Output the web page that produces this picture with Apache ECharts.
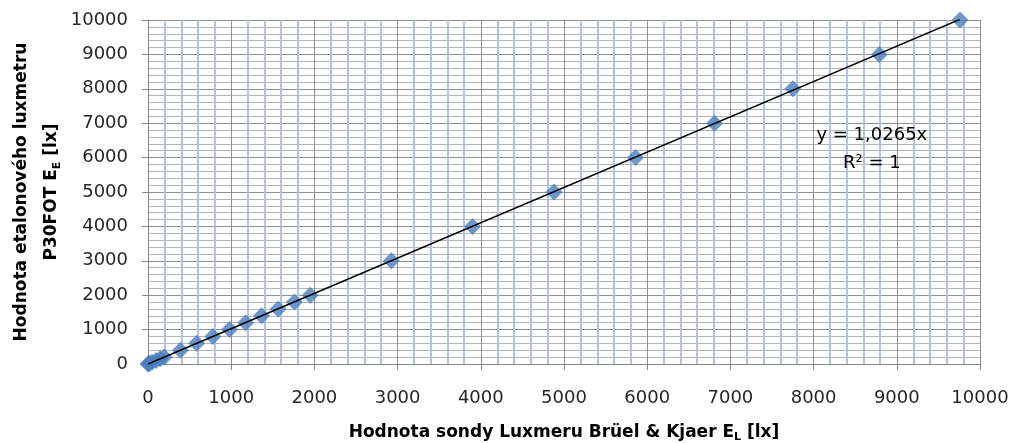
<!DOCTYPE html>
<html>
<head>
<meta charset="utf-8">
<script src="https://cdn.jsdelivr.net/npm/echarts@6/dist/echarts.min.js"></script>
<style>
  html, body { margin: 0; padding: 0; background: #fff; }
  #chart { width: 1018px; height: 443px; }
</style>
</head>
<body>
<div id="chart"></div>
<script>
// Reference illuminance of the P30FOT luxmeter [lx]
const etalonValues = [0, 10, 20, 50, 100, 150, 200, 400, 600, 800, 1000, 1200, 1400, 1600, 1800, 2000,
                      3000, 4000, 5000, 6000, 7000, 8000, 9000, 10000];
// Reading of the Brüel & Kjaer probe [lx]
const probeValues = [0, 10, 19, 49, 97, 146, 195, 390, 585, 780, 980, 1175, 1365, 1565, 1760, 1950,
                     2925, 3900, 4880, 5860, 6810, 7750, 8790, 9760];
// Linear trendline through the origin
const trendSlope = 1.0265;
const trendR2 = 1;
const axisTicks = { min: 0, max: 10000, interval: 1000 };

const FONT = 'DejaVu Sans';
const points = probeValues.map((x, i) => [x, etalonValues[i]]);
const xMax = Math.max(...probeValues);
const trendLine = [[0, 0], [xMax, trendSlope * xMax]];

const chart = echarts.init(document.getElementById('chart'), null, { renderer: 'canvas' });

const axisCommon = {
  type: 'value',
  min: axisTicks.min,
  max: axisTicks.max,
  interval: axisTicks.interval,
  axisLine: { show: true, lineStyle: { color: '#868686', width: 1 } },
  axisTick: { show: true, inside: false, length: 6, lineStyle: { color: '#868686' } },
  axisLabel: { color: '#262626', fontFamily: FONT, fontSize: 18, margin: 20, formatter: v => String(v) },
  splitLine: { show: true, lineStyle: { color: '#8f8f8f', width: 1 } },
  minorTick: { show: false, splitNumber: 5 }
};

chart.setOption({
  animation: false,
  backgroundColor: '#ffffff',
  grid: { left: 148, right: 38, top: 20, bottom: 79, containLabel: false, outerBoundsMode: 'none' },
  xAxis: Object.assign({}, axisCommon, {
    axisLabel: Object.assign({}, axisCommon.axisLabel, { margin: 25 }),
    name: '{t|Hodnota sondy Luxmeru Brüel & Kjaer E}{s|L}{t| [lx]}',
    nameLocation: 'middle',
    nameGap: 58,
    nameTextStyle: {
      rich: {
        t: { fontFamily: FONT, fontSize: 17, fontWeight: 'bold', color: '#000' },
        s: { fontFamily: FONT, fontSize: 11, fontWeight: 'bold', color: '#000', verticalAlign: 'bottom', padding: [10, 0, 0, 0] }
      }
    },
    minorSplitLine: { show: true, lineStyle: { color: '#aec3ea', width: 2 } }
  }),
  yAxis: Object.assign({}, axisCommon, {
    name: '{t|Hodnota etalonového luxmetru}\n{t|P30FOT E}{s|E}{t| [lx]}',
    nameLocation: 'middle',
    nameRotate: 90,
    nameGap: 81,
    nameMoveOverlap: false,
    nameTextStyle: {
      lineHeight: 30,
      rich: {
        t: { fontFamily: FONT, fontSize: 17, fontWeight: 'bold', color: '#000', lineHeight: 30 },
        s: { fontFamily: FONT, fontSize: 11, fontWeight: 'bold', color: '#000', lineHeight: 30, padding: [10, 0, 0, 0] }
      }
    },
    minorSplitLine: { show: true, lineStyle: { color: '#b4b4b4', width: 1 } }
  }),
  series: [
    {
      name: 'trend',
      type: 'line',
      data: trendLine,
      symbol: 'none',
      lineStyle: { color: '#000', width: 1.5 },
      z: 3,
      markPoint: {
        symbol: 'circle',
        symbolSize: 0,
        label: {
          show: true,
          formatter: 'y = ' + trendSlope.toFixed(4).replace('.', ',') + 'x\nR² = ' + trendR2,
          fontFamily: FONT,
          fontSize: 18,
          lineHeight: 28,
          color: '#000',
          align: 'center',
          verticalAlign: 'middle'
        },
        data: [{ coord: [8700, 6250] }]
      }
    },
    {
      name: 'measured',
      type: 'scatter',
      data: points,
      symbol: 'diamond',
      symbolSize: 17,
      itemStyle: { color: '#4a7ebe' },
      z: 2
    }
  ]
});
</script>
</body>
</html>
